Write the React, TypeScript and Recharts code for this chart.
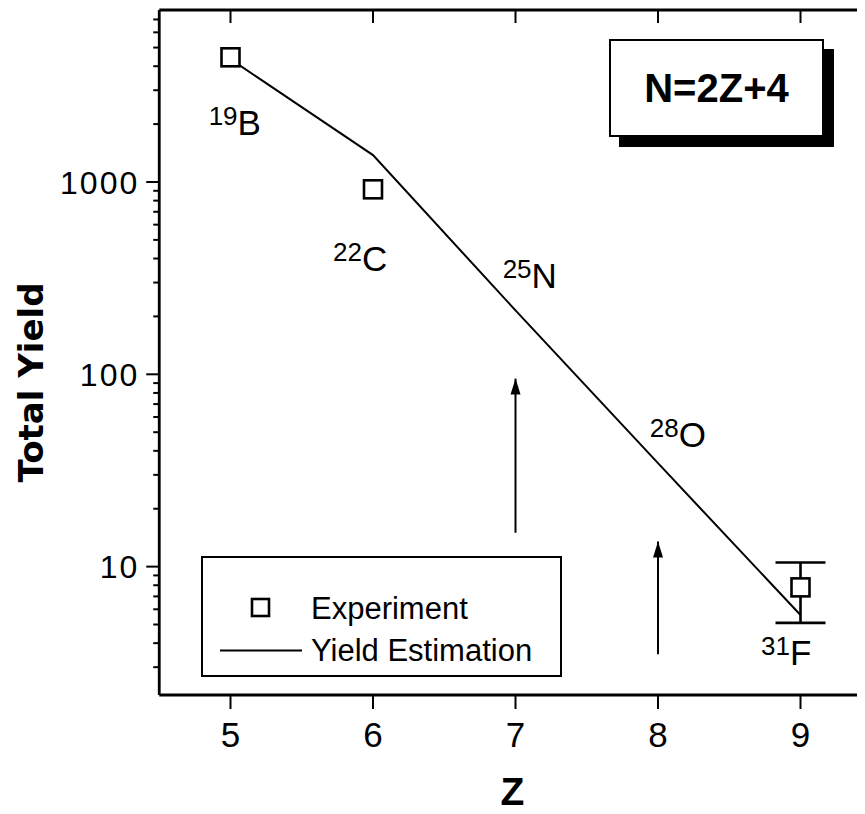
import React from 'react';
import {
  ComposedChart,
  XAxis,
  YAxis,
  Line,
  Scatter,
  ErrorBar,
  ReferenceLine,
  Legend,
} from 'recharts';

// ---- data ----
const zValues = [5, 6, 7, 8, 9];
const estimation = [4350, 1380, 215, 34.5, 5.6];

const expZ = [5, 6];
const expYield = [4450, 916];

const fluorineZ = [9];
const fluorineYield = [7.8];
const fluorineErr = [[2.7, 2.7]];

const xTicks = [5, 6, 7, 8, 9];
const yMajorTicks = [10, 100, 1000];
const yMinorTicks = [3, 4, 5, 6, 7, 8, 9, 20, 30, 40, 50, 60, 70, 80, 90, 200, 300, 400, 500, 600, 700, 800, 900, 2000, 3000, 4000, 5000, 6000, 7000];

const labelZ = [5.03, 5.91, 7.1, 8.14, 8.9];
const labelY = [1758, 346, 281, 41.7, 3.08];
const labelMass = ['19', '22', '25', '28', '31'];
const labelElem = ['B', 'C', 'N', 'O', 'F'];

const arrowZ = [7, 8];
const arrowFrom = [15, 3.5];
const arrowTo = [95, 13.5];

const seriesNames = ['Experiment', 'Yield Estimation'];
const boxText = 'N=2Z+4';

// ---- derived tables ----
const lineData = zValues.map((z, i) => ({ z, y: estimation[i] }));
const expData = expZ.map((z, i) => ({ z, y: expYield[i] }));
const fData = fluorineZ.map((z, i) => ({ z, y: fluorineYield[i], err: fluorineErr[i] }));
const labelData = labelZ.map((z, i) => ({ z, y: labelY[i], mass: labelMass[i], elem: labelElem[i] }));
const arrowHeads = arrowZ.map((z, i) => ({ z, y: arrowTo[i] }));
const yTicks = [...yMajorTicks, ...yMinorTicks].sort((a, b) => a - b);

if (typeof document !== 'undefined') {
  document.documentElement.style.overflow = 'hidden';
  document.body.style.overflow = 'hidden';
}

const W = 880;
const H = 806;
const LEFT = 151.25;
const RIGHT_W = 16.25;
const TOP_H = 2;
const BOTTOM_H = 119;
const FONT = '"Liberation Sans", Arial, Helvetica, sans-serif';

const SquareShape = (props: any) => {
  const { cx, cy } = props;
  if (cx == null || cy == null) return null;
  const s = 18;
  return (
    <rect x={cx - s / 2} y={cy - s / 2} width={s} height={s} fill="#fff" stroke="#000" strokeWidth={2.6} />
  );
};

const ArrowHead = (props: any) => {
  const { cx, cy } = props;
  if (cx == null || cy == null) return null;
  return <path d={`M${cx},${cy} L${cx - 5},${cy + 16} L${cx + 5},${cy + 16} Z`} fill="#000" />;
};

const IsotopeLabel = (props: any) => {
  const { cx, cy, payload } = props;
  if (cx == null || cy == null) return null;
  return (
    <text x={cx} y={cy} textAnchor="middle" fontFamily={FONT} fill="#000">
      <tspan fontSize={26} dy={-10}>{payload.mass}</tspan>
      <tspan fontSize={35} dy={10}>{payload.elem}</tspan>
    </text>
  );
};

const LeftTick = (props: any) => {
  const { x, y, payload } = props;
  const v = payload.value;
  const major = yMajorTicks.includes(v);
  return (
    <g>
      <line x1={x} x2={x - (major ? 13 : 6)} y1={y} y2={y} stroke="#000" strokeWidth={2} />
      {major && (
        <text x={x - 20} y={y} dy="0.36em" textAnchor="end" fontFamily={FONT} fontSize={32} letterSpacing={2} fill="#000">
          {v}
        </text>
      )}
    </g>
  );
};

const RightTick = (props: any) => {
  const { x, y, payload } = props;
  const major = yMajorTicks.includes(payload.value);
  return <line x1={x} x2={x - (major ? 14 : 8)} y1={y} y2={y} stroke="#000" strokeWidth={2} />;
};

const TopTick = (props: any) => {
  const { x, y } = props;
  return <line x1={x} x2={x} y1={y} y2={y + 13} stroke="#000" strokeWidth={2} />;
};

const BottomTick = (props: any) => {
  const { x, y, payload } = props;
  return (
    <g>
      <line x1={x} x2={x} y1={y} y2={y + 14} stroke="#000" strokeWidth={2} />
      <text x={x} y={y + 51.7} textAnchor="middle" fontFamily={FONT} fontSize={35} fill="#000">
        {payload.value}
      </text>
    </g>
  );
};

const YTitle = (props: any) => {
  const x = 35;
  const y = 374.5;
  return (
    <text
      x={x}
      y={y}
      transform={`rotate(-90, ${x}, ${y})`}
      textAnchor="middle"
      fontFamily='"DejaVu Sans", sans-serif'
      fontWeight="bold"
      fontSize={34}
      fill="#000"
    >
      Total Yield
    </text>
  );
};

const XTitle = (props: any) => {
  const vb = props.viewBox || {};
  const cx = (vb.x ?? LEFT) + (vb.width ?? 0) / 2 - 3;
  return (
    <text x={cx} y={797} textAnchor="middle" fontFamily={FONT} fontWeight="bold" fontSize={39} fill="#000">
      Z
    </text>
  );
};

const LegendBox = (props: any) => {
  const payload = (props.payload || []) as any[];
  const names = payload.length ? payload.map((p) => p.value) : seriesNames;
  const expName = names.find((n: string) => n === seriesNames[0]) || seriesNames[0];
  const lineName = names.find((n: string) => n === seriesNames[1]) || seriesNames[1];
  return (
    <div
      style={{
        width: 361,
        height: 121,
        border: '2.5px solid #000',
        boxSizing: 'border-box',
        background: '#fff',
      }}
    >
      <svg width={356} height={116} style={{ display: 'block' }}>
        <rect x={49} y={41} width={17} height={17} fill="#fff" stroke="#000" strokeWidth={2.6} />
        <text x={108} y={60.5} fontFamily={FONT} fontSize={31} fill="#000">
          {expName}
        </text>
        <line x1={17} x2={99} y1={92.5} y2={92.5} stroke="#000" strokeWidth={2} />
        <text x={108} y={103} fontFamily={FONT} fontSize={31} fill="#000">
          {lineName}
        </text>
      </svg>
    </div>
  );
};

export default function App() {
  return (
    <div style={{ position: 'relative', width: 857, height: H, overflow: 'hidden', background: '#fff' }}>
      <ComposedChart width={W} height={H} margin={{ top: 0, right: 0, bottom: 0, left: 0 }}>
        <XAxis
          xAxisId="b"
          dataKey="z"
          type="number"
          domain={[4.5, 9.5]}
          allowDataOverflow
          ticks={xTicks}
          interval={0}
          height={BOTTOM_H}
          tickSize={0}
          tickMargin={0}
          tickLine={false}
          tick={<BottomTick />}
          axisLine={{ stroke: '#000', strokeWidth: 2.8 }}
          label={<XTitle />}
        />
        <XAxis
          xAxisId="t"
          orientation="top"
          dataKey="z"
          type="number"
          domain={[4.5, 9.5]}
          allowDataOverflow
          ticks={xTicks}
          interval={0}
          height={TOP_H}
          tickSize={0}
          tickMargin={0}
          tickLine={false}
          tick={<TopTick />}
          axisLine={{ stroke: '#000', strokeWidth: 2.8 }}
        />
        <YAxis
          yAxisId="l"
          dataKey="y"
          type="number"
          scale="log"
          domain={[2.15, 7840]}
          allowDataOverflow
          ticks={yTicks}
          interval={0}
          width={LEFT}
          tickSize={0}
          tickMargin={0}
          tickLine={false}
          tick={<LeftTick />}
          axisLine={{ stroke: '#000', strokeWidth: 2.8 }}
          label={<YTitle />}
        />
        <YAxis
          yAxisId="r"
          orientation="right"
          dataKey="y"
          type="number"
          scale="log"
          domain={[2.15, 7840]}
          allowDataOverflow
          ticks={yTicks}
          interval={0}
          width={RIGHT_W}
          tickSize={0}
          tickMargin={0}
          tickLine={false}
          tick={<RightTick />}
          axisLine={{ stroke: '#000', strokeWidth: 2.8 }}
        />

        {arrowZ.map((z, i) => (
          <ReferenceLine
            key={`arrow-${i}`}
            xAxisId="b"
            yAxisId="l"
            segment={[
              { x: z, y: arrowFrom[i] },
              { x: z, y: arrowTo[i] },
            ]}
            stroke="#000"
            strokeWidth={2}
            ifOverflow="visible"
          />
        ))}

        <Scatter
          xAxisId="b"
          yAxisId="l"
          data={arrowHeads}
          dataKey="y"
          shape={<ArrowHead />}
          isAnimationActive={false}
          legendType="none"
          name="arrows"
        />

        <Scatter
          xAxisId="b"
          yAxisId="l"
          data={labelData}
          dataKey="y"
          shape={<IsotopeLabel />}
          isAnimationActive={false}
          legendType="none"
          name="labels"
        />

        <Line
          xAxisId="b"
          yAxisId="l"
          data={lineData}
          dataKey="y"
          type="linear"
          stroke="#000"
          strokeWidth={2}
          dot={false}
          activeDot={false}
          isAnimationActive={false}
          name={seriesNames[1]}
        />

        <Scatter
          xAxisId="b"
          yAxisId="l"
          data={fData}
          dataKey="y"
          shape={<SquareShape />}
          isAnimationActive={false}
          legendType="none"
          name="F"
        >
          <ErrorBar dataKey="err" direction="y" width={25} stroke="#000" strokeWidth={2.6} />
        </Scatter>

        <Scatter
          xAxisId="b"
          yAxisId="l"
          data={expData}
          dataKey="y"
          shape={<SquareShape />}
          isAnimationActive={false}
          name={seriesNames[0]}
        />

        <Legend
          layout="horizontal"
          verticalAlign="middle"
          align="center"
          content={<LegendBox />}
          wrapperStyle={{ position: 'absolute', left: 193, top: 548, width: 361, height: 121 }}
        />
      </ComposedChart>

      <div
        style={{
          position: 'absolute',
          left: 601,
          top: 31,
          width: 215,
          height: 98,
          boxSizing: 'border-box',
          border: '2.5px solid #000',
          background: '#fff',
          boxShadow: '10px 10px 0 0 #000',
          display: 'flex',
          alignItems: 'center',
          justifyContent: 'center',
          fontFamily: FONT,
          fontWeight: 'bold',
          fontSize: 40,
          color: '#000',
        }}
      >
        {boxText}
      </div>
    </div>
  );
}
